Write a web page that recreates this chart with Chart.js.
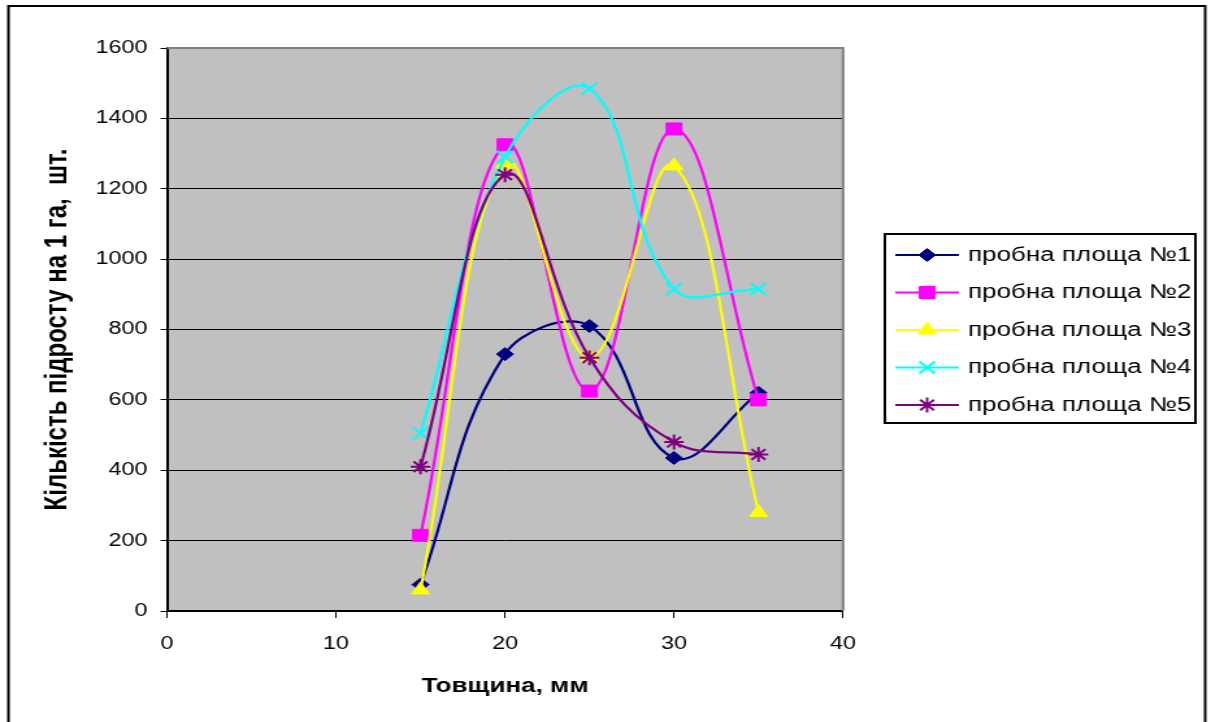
<!DOCTYPE html>
<html>
<head>
<meta charset="utf-8">
<script src="https://cdn.jsdelivr.net/npm/chart.js@4.4.1/dist/chart.umd.min.js"></script>
<style>
  html, body { margin: 0; padding: 0; background: #fff; overflow: hidden; }
  #wrap { width: 1211px; height: 722px; overflow: hidden; }
  #chart { display: block; transform-origin: 0 0; }
</style>
</head>
<body>
<div id="wrap"><canvas id="chart" width="932" height="722"></canvas></div>
<script>
// Thickness classes (mm) and seedling counts per hectare on each sample plot
const thickness = [15, 20, 25, 30, 35];
const plot1 = [75, 730, 810, 435, 620];
const plot2 = [215, 1325, 625, 1370, 600];
const plot3 = [60, 1270, 720, 1265, 280];
const plot4 = [505, 1290, 1485, 915, 915];
const plot5 = [410, 1240, 720, 480, 445];

const plotNames = ['пробна площа №1', 'пробна площа №2', 'пробна площа №3', 'пробна площа №4', 'пробна площа №5'];
const xTicks = [0, 10, 20, 30, 40];
const yTicks = [0, 200, 400, 600, 800, 1000, 1200, 1400, 1600];

// The drawing is laid out on a narrower canvas and stretched sideways
const W = 932, H = 722;
const SX = 1211 / W;
const canvas = document.getElementById('chart');
canvas.style.transform = `scaleX(${SX})`;

const FONT = '"Liberation Sans", Arial, sans-serif';
const plotLeft = 128.5, plotRight = 648.8, plotTop = 48, plotBottom = 611;

const styles = [
    { color: '#000080', point: 'rectRot', radius: 6.5, pw: 1 },
    { color: '#FF00FF', point: 'rect', radius: 8.5, pw: 1 },
    { color: '#FFFF00', point: 'triangle', radius: 8, pw: 1 },
    { color: '#00FFFF', point: 'crossRot', radius: 8.5, pw: 2 },
    { color: '#800080', point: 'star', radius: 7.5, pw: 2 }
];

const series = [plot1, plot2, plot3, plot4, plot5];
const datasets = series.map((values, i) => ({
    label: plotNames[i],
    data: values.map((v, k) => ({ x: thickness[k], y: v })),
    borderColor: styles[i].color,
    backgroundColor: styles[i].color,
    borderWidth: 2.2,
    tension: 0.4,
    pointStyle: styles[i].point,
    pointRadius: styles[i].radius,
    pointHoverRadius: styles[i].radius,
    pointBackgroundColor: styles[i].color,
    pointBorderColor: styles[i].color,
    pointBorderWidth: styles[i].pw,
    order: series.length - i // later plots drawn on top
}));

const plotFrame = {
    id: 'plotFrame',
    beforeDraw(chart) {
        const { ctx, chartArea: a } = chart;
        ctx.save();
        ctx.fillStyle = '#C0C0C0';
        ctx.fillRect(a.left, a.top, a.right - a.left, a.bottom - a.top);
        ctx.strokeStyle = '#000';
        ctx.lineWidth = 2;
        ctx.strokeRect(6.5, 6, 921, 760);
        ctx.restore();
    },
    beforeDatasetsDraw(chart) {
        const { ctx, chartArea: a } = chart;
        ctx.save();
        ctx.strokeStyle = '#808080';
        ctx.lineWidth = 2;
        ctx.beginPath();
        ctx.moveTo(a.left, a.top);
        ctx.lineTo(a.right, a.top);
        ctx.lineTo(a.right, a.bottom);
        ctx.stroke();
        ctx.restore();
    },
    afterDraw(chart) {
        // legend: line sample with marker, then the label
        const { ctx } = chart;
        ctx.save();
        ctx.strokeStyle = '#000';
        ctx.lineWidth = 2;
        ctx.strokeRect(681, 234, 239, 189);
        ctx.font = `20px ${FONT}`;
        ctx.textBaseline = 'middle';
        chart.data.datasets.forEach((ds, i) => {
            const y = 255 + i * 37.5;
            ctx.strokeStyle = ds.borderColor;
            ctx.lineWidth = ds.borderWidth;
            ctx.beginPath();
            ctx.moveTo(689, y);
            ctx.lineTo(738, y);
            ctx.stroke();
            ctx.fillStyle = ds.pointBackgroundColor;
            ctx.lineWidth = ds.pointBorderWidth;
            Chart.helpers.drawPoint(ctx, {
                pointStyle: ds.pointStyle,
                radius: ds.pointRadius,
                rotation: 0,
                borderWidth: ds.pointBorderWidth
            }, 713.5, y);
            ctx.fillStyle = '#000';
            ctx.fillText(ds.label, 745, y);
        });
        ctx.restore();
    }
};

new Chart(canvas, {
    type: 'line',
    data: { datasets },
    options: {
        responsive: false,
        animation: false,
        events: [],
        layout: {
            padding: { left: 0, top: plotTop, right: W - plotRight, bottom: 0 }
        },
        plugins: {
            legend: { display: false },
            tooltip: { enabled: false }
        },
        scales: {
            x: {
                type: 'linear',
                min: 0,
                max: 40,
                afterFit: s => { s.height = H - plotBottom; },
                afterBuildTicks: s => { s.ticks = xTicks.map(v => ({ value: v })); },
                ticks: {
                    color: '#000',
                    padding: 15,
                    font: { family: FONT, size: 18 },
                    callback: v => String(v)
                },
                grid: {
                    drawOnChartArea: false,
                    tickLength: 7,
                    tickColor: '#000',
                    lineWidth: 1
                },
                border: { color: '#000', width: 2 },
                title: {
                    display: true,
                    text: 'Товщина, мм',
                    color: '#000',
                    font: { family: FONT, size: 20, weight: 'bold' },
                    padding: { top: 0, bottom: 24 }
                }
            },
            y: {
                min: 0,
                max: 1600,
                afterFit: s => { s.width = plotLeft; },
                afterBuildTicks: s => { s.ticks = yTicks.map(v => ({ value: v })); },
                ticks: {
                    color: '#000',
                    padding: 10,
                    font: { family: FONT, size: 18 },
                    callback: v => String(v)
                },
                grid: {
                    color: '#000',
                    lineWidth: 1,
                    tickLength: 5,
                    tickColor: '#000'
                },
                border: { color: '#000', width: 2 },
                title: {
                    display: true,
                    text: 'Кількість підросту на 1 га,  шт.',
                    color: '#000',
                    font: { family: FONT, size: 24, weight: 'bold' },
                    padding: { top: 30, bottom: 0 }
                }
            }
        }
    },
    plugins: [plotFrame]
});
</script>
</body>
</html>
